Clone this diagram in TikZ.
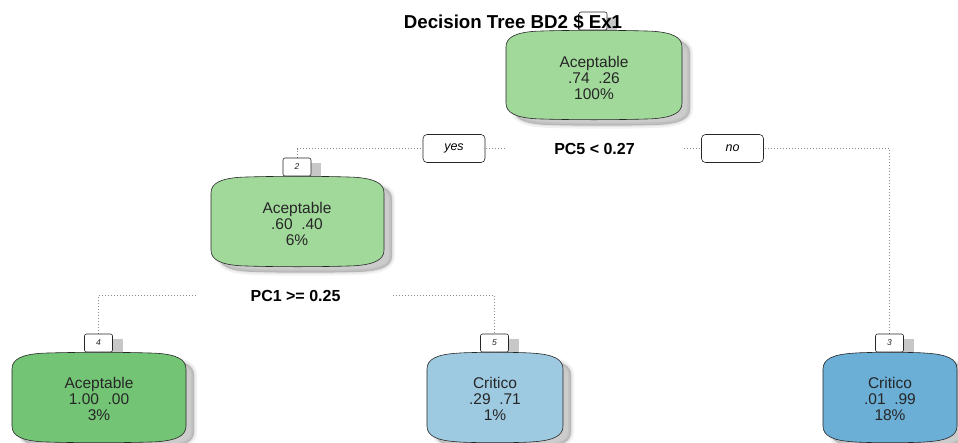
\documentclass[tikz,border=0pt]{standalone}
\usepackage{fontspec}
\setmainfont{Liberation Sans}
\pgfdeclarelayer{shadows}
\pgfdeclarelayer{lines}
\pgfsetlayers{shadows,lines,main}

\definecolor{leafA}{HTML}{A1D99B}
\definecolor{leafB}{HTML}{74C476}
\definecolor{leafC}{HTML}{9ECAE1}
\definecolor{leafD}{HTML}{6BAED6}
\definecolor{branchgray}{HTML}{8A8A8A}

% outline of a tree node: straight sides, convex top and bottom
\newcommand\rtshape[4]{%
 ({#1},{#2+17}) .. controls ({#1},{#2+7}) and ({#1+10},{#2+2.5}) .. ({#1+30},{#2+1.2})
 .. controls ({(#1+#3)/2-25},{#2}) and ({(#1+#3)/2+25},{#2}) .. ({#3-30},{#2+1.2})
 .. controls ({#3-10},{#2+2.5}) and ({#3},{#2+7}) .. ({#3},{#2+17})
 -- ({#3},{#4-17}) .. controls ({#3},{#4-7}) and ({#3-10},{#4-2.5}) .. ({#3-30},{#4-1.2})
 .. controls ({(#1+#3)/2+25},{#4}) and ({(#1+#3)/2-25},{#4}) .. ({#1+30},{#4-1.2})
 .. controls ({#1+10},{#4-2.5}) and ({#1},{#4-7}) .. ({#1},{#4-17}) -- cycle}

% a node body with its soft shadow; the text node is placed separately
\newcommand\rtbody[5]{%
 \begin{pgfonlayer}{shadows}
  \path[fill=black, fill opacity=0.2, draw=black, draw opacity=0.05,
        line width=6pt, shift={(8,6)}] \rtshape{#1}{#2}{#3}{#4};
  \path[draw=black, draw opacity=0.06, line width=2.5pt, shift={(8,6)}]
        \rtshape{#1}{#2}{#3}{#4};
 \end{pgfonlayer}
 \path[fill=#5, draw=black!85, line width=0.6pt] \rtshape{#1}{#2}{#3}{#4};
}

\begin{document}
\begin{tikzpicture}[x=1pt,y=-1pt,
  nodetext/.style={align=center, inner sep=0pt, text=black!85,
    font=\fontsize{15.5}{16}\selectfont},
  numbox/.style={draw=black!85, fill=white, rounded corners=2pt, line width=0.6pt,
    minimum width=28pt, minimum height=18pt, inner sep=0pt,
    font=\fontsize{8.5}{8.5}\itshape\selectfont, text=black!85},
  splitlabel/.style={fill=white, inner xsep=0pt, inner ysep=3pt,
    font=\fontsize{16}{16}\bfseries\selectfont},
  yesno/.style={draw=black!85, fill=white, rounded corners=4pt, line width=0.6pt,
    minimum width=62pt, minimum height=28pt, inner sep=0pt,
    font=\fontsize{12.5}{12.5}\itshape\selectfont},
  branch/.style={draw=branchgray, line width=0.8pt, dash pattern=on 1pt off 2pt},
  numshadow/.style={fill=black, fill opacity=0.22}]
\useasboundingbox (0,0) rectangle (958,442);

% node bodies
\rtbody{506}{30}{682}{120}{leafA}
\rtbody{211}{176}{384}{267}{leafA}
\rtbody{12}{352}{186}{443}{leafB}
\rtbody{427}{352}{563}{443}{leafC}
\rtbody{823}{352}{957}{443}{leafD}

% node texts
\node[nodetext] (n1) at (594,77.5) {Aceptable\\.74\ \ .26\\100\%};
\node[nodetext] (n2) at (297,223.5) {Aceptable\\.60\ \ .40\\6\%};
\node[nodetext] (n4) at (99,398.5) {Aceptable\\1.00\ \ .00\\3\%};
\node[nodetext] (n5) at (495,398.5) {Critico\\.29\ \ .71\\1\%};
\node[nodetext] (n3) at (890,398.5) {Critico\\.01\ \ .99\\18\%};

% node numbers
\node[numbox] (b1) at (593,21) {};
\node[numbox] (b2) at (297,167) {2};
\node[numbox] (b4) at (98.5,343) {4};
\node[numbox] (b5) at (494.5,343) {5};
\node[numbox] (b3) at (889.5,343) {3};

\begin{pgfonlayer}{shadows}
 \foreach \b in {b1,b2,b4,b5,b3}
  \fill[numshadow] ([shift={(10,5)}]\b.south west) rectangle ([shift={(10,5)}]\b.north east);
\end{pgfonlayer}

% split labels
\node[splitlabel, minimum width=175pt] (s1) at (594.5,148.5) {PC5 < 0.27};
\node[splitlabel, minimum width=195pt] (s2) at (295.5,295.5) {PC1 >= 0.25};

\node[yesno] (yes) at (454,148.5) {yes};
\node[yesno] (no) at (732.5,148.5) {no};

% branches
\begin{pgfonlayer}{lines}
 \draw[branch] (b2.north) |- (s1.center) -| (b3.north);
 \draw[branch] (b4.north) |- (s2.center) -| (b5.north);
\end{pgfonlayer}

% title
\node[font=\fontsize{18.7}{20}\bfseries\selectfont, inner sep=0pt] (title) at (513,22)
  {Decision Tree BD2 \$ Ex1};
\end{tikzpicture}
\end{document}
